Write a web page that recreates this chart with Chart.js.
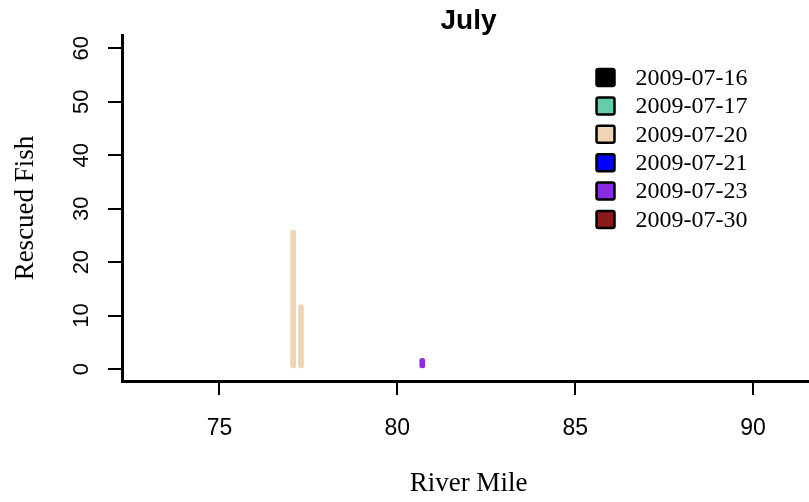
<!DOCTYPE html>
<html>
<head>
<meta charset="utf-8">
<title>July</title>
<script src="https://cdn.jsdelivr.net/npm/chart.js@4"></script>
<style>
    html, body { margin: 0; padding: 0; background: #fff; overflow: hidden; }
    #wrap { width: 935px; height: 502px; }
</style>
</head>
<body>
<div id="wrap"><canvas id="chart" width="935" height="502"></canvas></div>
<script>
// Даты спасательных работ (легенда)
const dates = ['2009-07-16', '2009-07-17', '2009-07-20', '2009-07-21', '2009-07-23', '2009-07-30'];
const colors = ['#000000', '#66CDAA', '#EFD5B2', '#0000FF', '#8A2BE2', '#8B1A1A'];

// Речная миля и число спасённых рыб для каждой даты
const riverMiles = [[], [], [77.07, 77.29], [], [80.70], []];
const rescuedFish = [[], [], [26, 12], [], [2], []];

// Подписи делений осей
const xTicks = [75, 80, 85, 90];
const yTicks = [0, 10, 20, 30, 40, 50, 60];

const sans = "'Liberation Sans', Arial, sans-serif";
const serif = "'Liberation Serif', 'Times New Roman', serif";

// Собираем наборы данных: по одному на дату
const datasets = dates.map((d, i) => ({
    label: d,
    data: riverMiles[i].map((m, j) => ({ x: m, y: rescuedFish[i][j] })),
    backgroundColor: colors[i],
    borderWidth: 0,
    barThickness: 5,
    borderRadius: 3,
    borderSkipped: false,
    grouped: false
}));

// Легенда внутри области графика (квадраты с чёрной рамкой)
const boxLegend = {
    id: 'boxLegend',
    afterDraw(chart) {
        const ctx = chart.ctx;
        ctx.save();
        chart.data.datasets.forEach((ds, i) => {
            const cy = 77.5 + i * 28.4;
            ctx.fillStyle = ds.backgroundColor;
            ctx.strokeStyle = '#000';
            ctx.lineWidth = 2.5;
            ctx.beginPath();
            ctx.roundRect(596.5, cy - 8.5, 18, 17, 2);
            ctx.fill();
            ctx.stroke();
            ctx.fillStyle = '#000';
            ctx.font = '24px ' + serif;
            ctx.textBaseline = 'middle';
            ctx.textAlign = 'left';
            ctx.fillText(ds.label, 635.5, cy + 1);
        });
        ctx.restore();
    }
};

const chart = new Chart(document.getElementById('chart'), {
    type: 'bar',
    data: { datasets: datasets },
    options: {
        responsive: false,
        animation: false,
        layout: { padding: { left: 0, right: 120, top: 0, bottom: 0 } },
        plugins: {
            legend: { display: false },
            tooltip: { enabled: false },
            title: {
                display: true,
                fullSize: false,
                text: 'July',
                color: '#000',
                font: { family: sans, size: 28, weight: 'bold', lineHeight: 1 },
                padding: { top: 7, bottom: 0 }
            }
        },
        scales: {
            x: {
                type: 'linear',
                min: 72.26,
                max: 91.74,
                offset: false,
                afterFit: s => { s.height = 121; },
                afterBuildTicks: s => { s.ticks = xTicks.map(v => ({ value: v })); },
                grid: { display: true, offset: false, drawOnChartArea: false, drawTicks: true, tickLength: 14, lineWidth: 2, color: '#000' },
                border: { display: true, width: 3, color: '#000' },
                ticks: { color: '#000', font: { family: sans, size: 23 }, padding: 20, maxRotation: 0 },
                title: {
                    display: true,
                    text: 'River Mile',
                    color: '#000',
                    font: { family: serif, size: 27 },
                    padding: { top: 0, bottom: 2 }
                }
            },
            y: {
                min: -2.24,
                max: 62.5,
                afterFit: s => { s.width = 122; },
                afterBuildTicks: s => { s.ticks = yTicks.map(v => ({ value: v })); },
                grid: { display: true, drawOnChartArea: false, drawTicks: true, tickLength: 14, lineWidth: 2, color: '#000' },
                border: { display: true, width: 3, color: '#000' },
                ticks: {
                    color: '#000',
                    font: { family: sans, size: 22 },
                    minRotation: 90,
                    maxRotation: 90,
                    crossAlign: 'center',
                    padding: 14
                },
                title: {
                    display: true,
                    text: 'Rescued Fish',
                    color: '#000',
                    font: { family: serif, size: 27 },
                    padding: { top: 10, bottom: 0 }
                }
            }
        }
    },
    plugins: [boxLegend]
});
</script>
</body>
</html>
